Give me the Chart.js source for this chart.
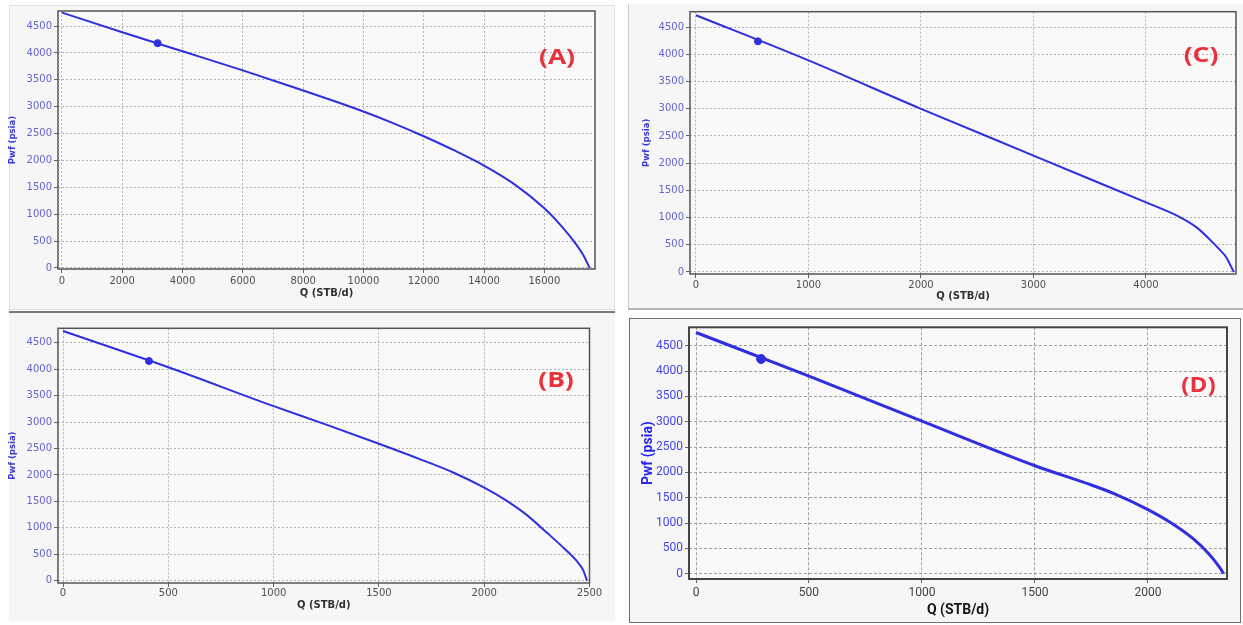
<!DOCTYPE html>
<html><head><meta charset="utf-8">
<script src="https://cdn.jsdelivr.net/npm/chart.js@4.4.1/dist/chart.umd.min.js"></script>
<style>
html,body{margin:0;padding:0;background:#fff;width:1243px;height:625px;overflow:hidden;position:relative;}
.panel{position:absolute;background:#f6f6f6;box-sizing:border-box;}
canvas{position:absolute;}
</style></head><body>
<div class="panel" style="left:9px;top:5px;width:606px;height:305px;border:1px solid #e0e0e0;"></div>
<div class="panel" style="left:9px;top:311px;width:606px;height:310px;border-top:2px solid #7a7a7a;"></div>
<div class="panel" style="left:628px;top:4px;width:615px;height:306px;border-left:1px solid #c8c8c8;border-bottom:2px solid #b5b5b5;"></div>
<div class="panel" style="left:629px;top:318px;width:612px;height:305px;border:1px solid #707070;"></div>
<canvas id="cA" width="620" height="312" style="left:0;top:0"></canvas>
<canvas id="cB" width="620" height="313" style="left:0;top:312px"></canvas>
<canvas id="cC" width="623" height="312" style="left:620px;top:0"></canvas>
<canvas id="cD" width="623" height="313" style="left:620px;top:312px"></canvas>
<script>
// ---- data ----
const qA = [0, 2000, 4000, 6000, 8000, 9000, 10000, 11000, 12000, 13000, 14000, 15000, 16000, 16500, 17000, 17300, 17500];
const pA = [4750, 4385, 4030, 3675, 3300, 3110, 2910, 2690, 2450, 2190, 1905, 1560, 1110, 820, 480, 230, 0];
const opA = [3174, 4182];

const qB = [0, 500, 1000, 1250, 1500, 1700, 1850, 2000, 2100, 2200, 2300, 2380, 2440, 2470, 2488];
const pB = [4720, 4035, 3300, 2950, 2590, 2290, 2050, 1760, 1530, 1250, 900, 610, 370, 200, 0];
const opB = [408, 4153];

const qC = [0, 1000, 2000, 3000, 3500, 4000, 4300, 4450, 4570, 4650, 4710, 4780];
const pC = [4720, 3890, 3000, 2140, 1710, 1280, 1010, 820, 590, 420, 280, 0];
const opC = [551, 4240];

const qD = [0, 500, 1000, 1500, 1750, 1850, 2000, 2100, 2200, 2270, 2315, 2335];
const pD = [4760, 3900, 3010, 2130, 1750, 1580, 1265, 1010, 690, 390, 140, 0];
const opD = [288, 4237];

const yTicks = [0, 500, 1000, 1500, 2000, 2500, 3000, 3500, 4000, 4500];
const xTicksA = [0, 2000, 4000, 6000, 8000, 10000, 12000, 14000, 16000];
const xTicksB = [0, 500, 1000, 1500, 2000, 2500];
const xTicksC = [0, 1000, 2000, 3000, 4000];
const xTicksD = [0, 500, 1000, 1500, 2000];

const xTitle = 'Q (STB/d)';
const yTitle = 'Pwf (psia)';
const panelLabels = ['(A)', '(B)', '(C)', '(D)'];

const deco = {
  id: 'deco',
  beforeDraw(chart, args, o) {
    const {ctx, chartArea: a} = chart;
    ctx.save(); ctx.fillStyle = o.plotBg; ctx.fillRect(a.left, a.top, a.width, a.height); ctx.restore();
  },
  afterDraw(chart, args, o) {
    const {ctx, chartArea: a} = chart;
    ctx.save();
    ctx.strokeStyle = o.frameColor; ctx.lineWidth = o.frameWidth;
    ctx.strokeRect(a.left, a.top, a.width, a.height);
    ctx.fillStyle = '#e8323c';
    ctx.font = 'bold ' + o.labelSize + 'px "Open Sans", sans-serif';
    ctx.textAlign = 'center'; ctx.textBaseline = 'middle';
    ctx.translate(o.labelX, o.labelY); ctx.scale(o.labelStretch, 1);
    ctx.fillText(o.label, 0, 0);
    ctx.restore();
  }
};

function make(id, s) {
  const lhY = s.yTitleSize * 1.2, lhX = s.xTitleSize * 1.2;
  const scaleLeft = s.yTitleX - lhY / 2;
  const xBottom = s.xTitleY + lhX / 2;
  new Chart(document.getElementById(id), {
    type: 'line',
    data: {
      datasets: [
        { data: [{x: s.op[0], y: s.op[1]}], showLine: false, pointRadius: s.pr, pointBackgroundColor: s.lineColor, pointBorderColor: s.lineColor, borderColor: s.lineColor },
        { data: s.q.map((v, i) => ({x: v, y: s.p[i]})), borderColor: s.lineColor, borderWidth: s.lw, pointRadius: 0, cubicInterpolationMode: 'monotone', fill: false }
      ]
    },
    plugins: [deco],
    options: {
      responsive: false, animation: false, events: [],
      layout: { padding: { left: scaleLeft - s.ox, top: s.T - s.oy, right: s.ox + s.w - s.R, bottom: s.oy + s.h - xBottom } },
      plugins: {
        legend: { display: false }, tooltip: { enabled: false },
        deco: { plotBg: '#f9f9f9', frameColor: s.frameColor, frameWidth: s.frameWidth, label: s.label, labelX: s.labelX - s.ox, labelY: s.labelY - s.oy, labelSize: s.labelSize, labelStretch: s.labelStretch }
      },
      scales: {
        x: {
          type: 'linear', min: s.xmin, max: s.xmax,
          afterBuildTicks: sc => { sc.ticks = s.xt.map(v => ({value: v})); },
          afterFit: sc => { sc.height = xBottom - s.B; sc.paddingLeft = 0; sc.paddingRight = 0; },
          grid: { color: s.gridColor, lineWidth: 1, tickLength: 4, tickColor: '#666' },
          border: { display: false, dash: s.dash },
          ticks: { color: s.xTickColor, padding: s.xPad, maxRotation: 0, autoSkip: false, callback: v => String(v), font: { family: s.font, size: s.tickSize } },
          title: { display: true, text: xTitle, color: s.xTitleColor, padding: 0, font: { family: s.font, size: s.xTitleSize, weight: 'bold' } }
        },
        y: {
          type: 'linear', min: s.ymin, max: s.ymax,
          afterBuildTicks: sc => { sc.ticks = yTicks.map(v => ({value: v})); },
          afterFit: sc => { sc.width = s.L - scaleLeft; sc.paddingTop = 0; sc.paddingBottom = 0; },
          grid: { color: s.gridColor, lineWidth: 1, tickLength: 4, tickColor: '#666' },
          border: { display: false, dash: s.dash },
          ticks: { color: s.yTickColor, padding: 2, autoSkip: false, callback: v => String(v), font: { family: s.font, size: s.tickSize } },
          title: { display: true, text: yTitle, color: s.yTitleColor, padding: 0, font: { family: s.font, size: s.yTitleSize, weight: 'bold' } }
        }
      }
    }
  });
}

const base = { font: '"DejaVu Sans", sans-serif', tickSize: 10, xTitleSize: 10, yTitleSize: 8.5,
  lineColor: '#2f2fe0', lw: 2, pr: 3.5, gridColor: '#b4b4b4', dash: [2, 2],
  xTickColor: '#505050', yTickColor: '#6464d2', xTitleColor: '#303030', yTitleColor: '#3a3ad8',
  frameColor: '#555', frameWidth: 1.5, labelSize: 22, labelStretch: 1.2 };

make('cA', Object.assign({}, base, { ox: 0, oy: 0, w: 620, h: 312, L: 58, T: 11, R: 595, B: 269,
  yTitleX: 12.5, xTitleY: 293, xPad: 2, xmin: -130, xmax: 17680, ymin: -20, ymax: 4780,
  q: qA, p: pA, op: opA, xt: xTicksA, label: panelLabels[0], labelX: 557, labelY: 57.5 }));
make('cB', Object.assign({}, base, { ox: 0, oy: 312, w: 620, h: 313, L: 58, T: 328.3, R: 589.5, B: 583,
  yTitleX: 12.5, xTitleY: 605.5, xPad: 0.5, xmin: -24, xmax: 2500, ymin: -43, ymax: 4772,
  q: qB, p: pB, op: opB, xt: xTicksB, label: panelLabels[1], labelX: 556, labelY: 381 }));
make('cC', Object.assign({}, base, { ox: 620, oy: 0, w: 623, h: 312, L: 690, T: 11.7, R: 1236, B: 274,
  yTitleX: 646.7, xTitleY: 296.7, xPad: 1, xmin: -53.3, xmax: 4800, ymin: -37, ymax: 4785,
  q: qC, p: pC, op: opC, xt: xTicksC, label: panelLabels[2], labelX: 1201, labelY: 56 }));
make('cD', Object.assign({}, base, { ox: 620, oy: 312, w: 623, h: 313, L: 689, T: 327.3, R: 1227, B: 579,
  font: 'Roboto, sans-serif', tickSize: 12, xTitleSize: 14, yTitleSize: 14,
  lw: 3, pr: 4.5, gridColor: '#a0a0a0', dash: [3, 2], xTickColor: '#404040', yTickColor: '#4545ee',
  xTitleColor: '#151515', yTitleColor: '#2525ee', frameColor: '#444', frameWidth: 2, labelStretch: 1.1,
  yTitleX: 648, xTitleY: 610.5, xPad: 2.5, xmin: -31, xmax: 2350, ymin: -105, ymax: 4863,
  q: qD, p: pD, op: opD, xt: xTicksD, label: panelLabels[3], labelX: 1198.5, labelY: 386 }));
</script>
</body></html>
